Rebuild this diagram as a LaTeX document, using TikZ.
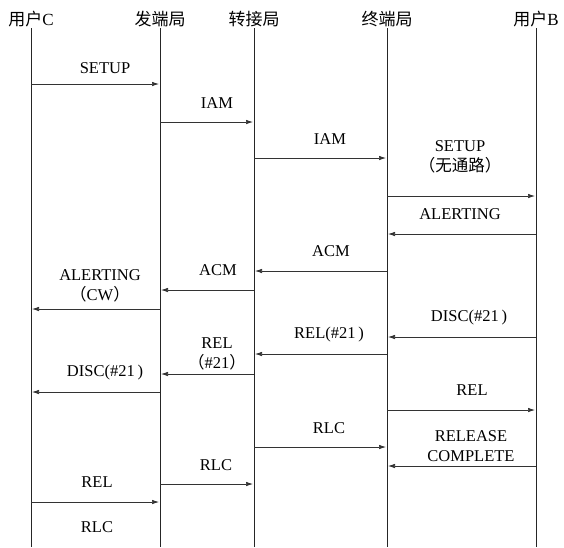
\documentclass[tikz,border=0pt]{standalone}
\usepackage{fontspec}
\setmainfont{Liberation Serif}
\newfontfamily\cjk{Noto Sans CJK SC}
\usetikzlibrary{arrows.meta,positioning}
\tikzset{
  head/.style={font=\fontsize{17}{20}\selectfont,inner sep=1pt,minimum height=18pt},
  life/.style={line width=0.9pt,draw=black!85},
  msg/.style={-{Latex[length=7pt,width=4.5pt]},line width=0.7pt,draw=black!80,shorten >=1pt},
  lbl/.style={font=\fontsize{16.5}{20}\selectfont,align=center,inner sep=1pt},
}

\begin{document}
\begin{tikzpicture}[x=1pt,y=-1pt]
\useasboundingbox (0,0) rectangle (564,547);
% the five parties and their lifelines
\node[head] (uc) at (31,19) {{\cjk 用户}C};
\node[head] (fd) at (160,19) {\cjk 发端局};
\node[head] (zj) at (254,19) {\cjk 转接局};
\node[head] (zd) at (387,19) {\cjk 终端局};
\node[head] (ub) at (536,19) {{\cjk 用户}B};
\foreach \p in {uc,fd,zj,zd,ub}{
  \draw[life] (\p.south) -- (\p |- 0,547);
}
% messages: from/to/arrow y/label x/label y/text
\foreach \a/\b/\y/\lx/\ly/\t in {
  uc/fd/84/105/68/{SETUP},
  fd/zj/122/217/103/{IAM},
  zj/zd/158/330/139/{IAM},
  zd/ub/196/460/157/{SETUP\\{\cjk （无通路）}},
  ub/zd/234/460/214/{ALERTING},
  zd/zj/271/331/251/{ACM},
  zj/fd/290/218/270/{ACM},
  fd/uc/309/100/286/{ALERTING\\{\cjk （}CW{\cjk ）}},
  ub/zd/337/469/318/{DISC(\#21\,)},
  zd/zj/354/329/335/{REL(\#21\,)},
  zj/fd/374/217/354/{REL\\{\cjk （}\#21{\cjk ）}},
  fd/uc/392/105/373/{DISC(\#21\,)},
  zd/ub/410/472/390/{REL},
  zj/zd/447/329/428/{RLC},
  ub/zd/466/471/446/{RELEASE\\COMPLETE},
  fd/zj/484/216/465/{RLC},
  uc/fd/502/97/482/{REL}}{
  \draw[msg] (\a |- 0,\y) -- (\b |- 0,\y);
  \node[lbl] at (\lx,\ly) {\t};
}
\node[lbl] (last) at (97,527) {RLC};
\end{tikzpicture}
\end{document}
